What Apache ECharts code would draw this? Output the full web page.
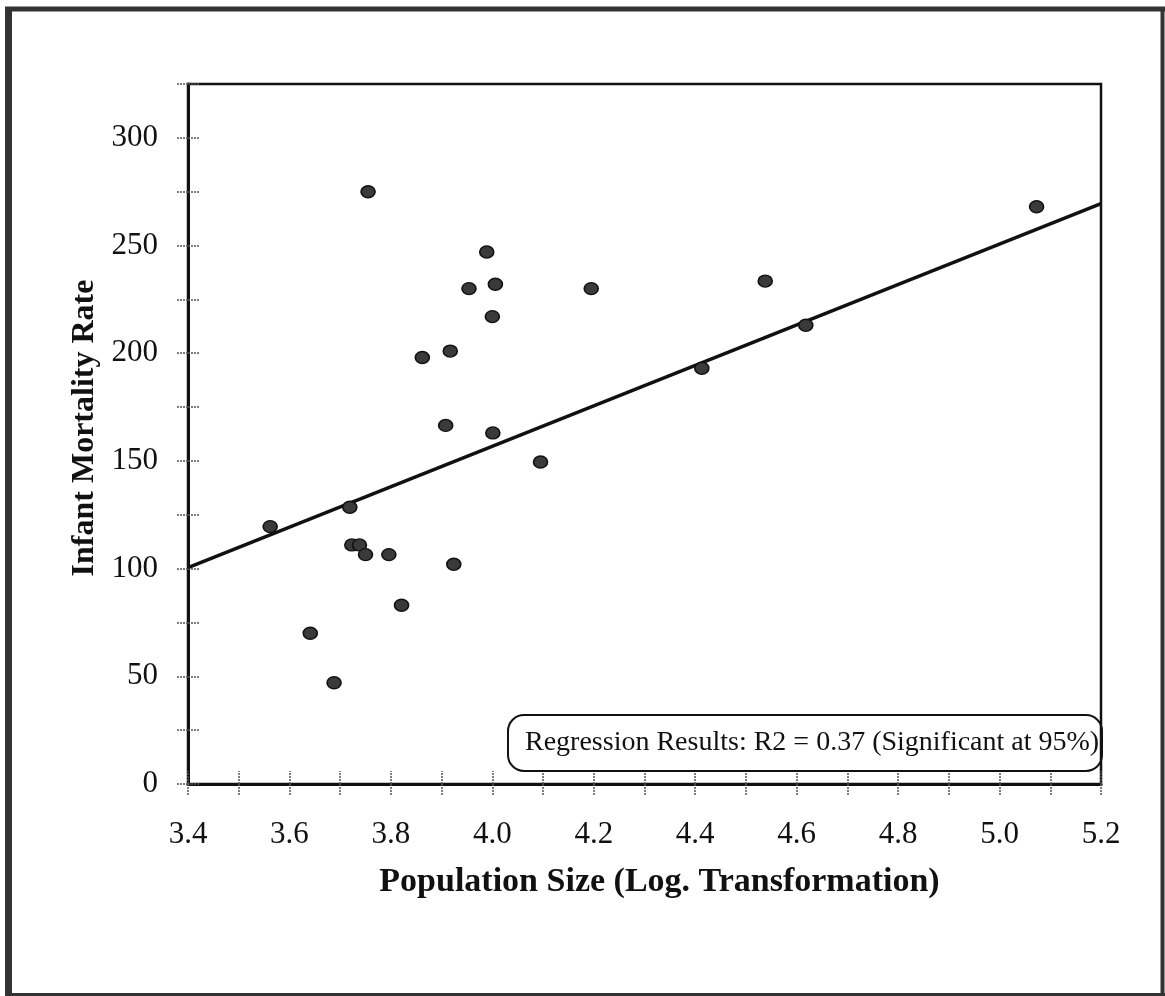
<!DOCTYPE html>
<html>
<head>
<meta charset="utf-8">
<script src="https://cdn.jsdelivr.net/npm/echarts@6/dist/echarts.min.js"></script>
<style>
html,body{margin:0;padding:0;background:#fff;}
#c{width:1165px;height:996px;}
</style>
</head>
<body>
<div id="c"></div>
<script>
// Population size (log10) and infant mortality rate
var popLog = [3.755, 3.989, 3.954, 4.006, 4.195, 4.000, 3.862, 3.917, 3.908, 4.001,
              4.095, 3.719, 3.562, 3.723, 3.738, 3.750, 3.796, 3.924, 3.821, 3.641,
              3.688, 5.073, 4.538, 4.618, 4.413];
var infantMortality = [275, 247, 230, 232, 230, 217, 198, 201, 166.5, 163,
                       149.5, 128.5, 119.5, 111, 111, 106.5, 106.5, 102, 83, 70,
                       47, 268, 233.5, 213, 193];
// Regression line end points (x, fitted y)
var fitX = [3.4, 5.2];
var fitY = [100.5, 269.5];
var annotationText = 'Regression Results: R2 = 0.37 (Significant at 95%)';
var xTitle = 'Population Size (Log. Transformation)';
var yTitle = 'Infant Mortality Rate';

var points = popLog.map(function (x, i) { return [x, infantMortality[i]]; });
var fitLine = fitX.map(function (x, i) { return [x, fitY[i]]; });

var serif = '"Liberation Serif", "Times New Roman", serif';
var tickStyle = { color: '#555', width: 1.5, type: [2, 1] };

var chart = echarts.init(document.getElementById('c'), null, { renderer: 'canvas' });
chart.setOption({
  backgroundColor: '#fff',
  animation: false,
  title: {
    text: annotationText,
    left: 508, top: 715,
    padding: [13, 3, 13, 17],
    borderColor: '#111', borderWidth: 2, borderRadius: 16,
    textStyle: { fontFamily: serif, fontWeight: 'normal', fontSize: 28, color: '#111', lineHeight: 30 }
  },
  grid: { left: 188, right: 64, top: 84, bottom: 212, show: true, borderColor: '#111', borderWidth: 2.5, backgroundColor: 'transparent' },
  xAxis: [{
    type: 'value', min: 3.4, max: 5.2, interval: 0.1,
    name: xTitle, nameLocation: 'middle', nameGap: 81,
    nameTextStyle: { fontFamily: serif, fontWeight: 'bold', fontSize: 34, color: '#111', padding: [0, 0, 0, 30] },
    axisLine: { show: true, onZero: false, lineStyle: { color: '#111', width: 3 } },
    axisTick: { show: true, inside: false, length: 12, lineStyle: tickStyle },
    axisLabel: {
      margin: 35, fontFamily: serif, fontSize: 31, color: '#111',
      formatter: function (v) { var k = Math.round(v * 10); return k % 2 === 0 ? (k / 10).toFixed(1) : ''; }
    },
    splitLine: { show: false }
  }, {
    type: 'value', min: 3.4, max: 5.2, interval: 0.1, position: 'bottom',
    axisLine: { show: false }, axisLabel: { show: false }, splitLine: { show: false },
    axisTick: { show: true, inside: true, length: 13, lineStyle: tickStyle }
  }],
  yAxis: [{
    type: 'value', min: 0, max: 325, interval: 25,
    name: yTitle, nameLocation: 'middle', nameGap: 81,
    nameTextStyle: { fontFamily: serif, fontWeight: 'bold', fontSize: 32, color: '#111', padding: [0, 0, 0, 12] },
    axisLine: { show: true, onZero: false, lineStyle: { color: '#111', width: 3 } },
    axisTick: { show: true, inside: false, length: 12, lineStyle: tickStyle },
    axisLabel: {
      margin: 30, fontFamily: serif, fontSize: 31, color: '#111',
      formatter: function (v) { return (v % 50 === 0 && v <= 300) ? String(v) : ''; }
    },
    splitLine: { show: false }
  }, {
    type: 'value', min: 0, max: 325, interval: 25, position: 'left',
    axisLine: { show: false }, axisLabel: { show: false }, splitLine: { show: false },
    axisTick: { show: true, inside: true, length: 12, lineStyle: tickStyle }
  }],
  series: [{
    type: 'line', data: fitLine, xAxisIndex: 0, yAxisIndex: 0,
    symbol: 'none', lineStyle: { color: '#111', width: 3.5 }, z: 3
  }, {
    type: 'scatter', data: points, xAxisIndex: 0, yAxisIndex: 0,
    symbol: 'circle', symbolSize: [14, 12],
    itemStyle: { color: '#3a3a3a', borderColor: '#111', borderWidth: 1.5, opacity: 1 }, z: 4
  }],
  graphic: [
    { type: 'line', shape: { x1: 8.5, y1: 7, x2: 8.5, y2: 995 }, style: { stroke: '#333', lineWidth: 7 } },
    { type: 'line', shape: { x1: 5, y1: 9, x2: 1165, y2: 9 }, style: { stroke: '#333', lineWidth: 5 } },
    { type: 'line', shape: { x1: 1162.5, y1: 7, x2: 1162.5, y2: 996 }, style: { stroke: '#333', lineWidth: 4 } },
    { type: 'line', shape: { x1: 5, y1: 994.5, x2: 1165, y2: 994.5 }, style: { stroke: '#333', lineWidth: 3 } }
  ]
});
</script>
</body>
</html>
